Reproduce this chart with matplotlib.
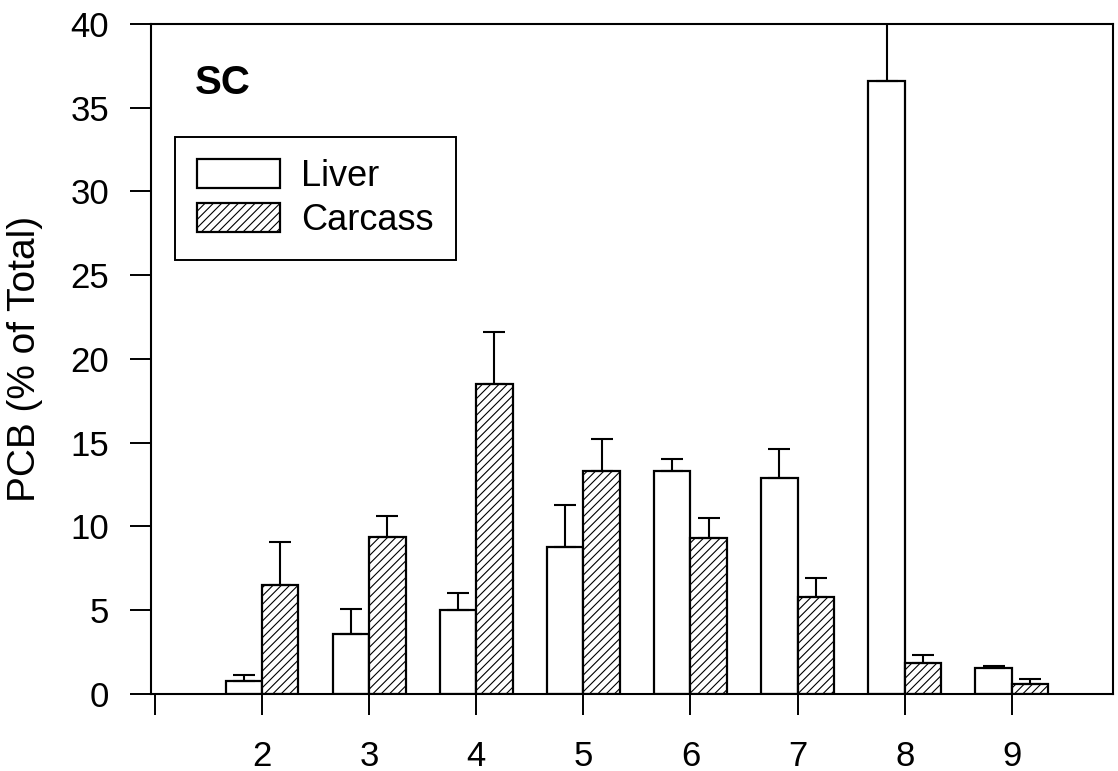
import numpy as np
import matplotlib
matplotlib.use('Agg')
import matplotlib.pyplot as plt

plt.rcParams['font.family'] = ['Liberation Sans', 'DejaVu Sans']
plt.rcParams['hatch.linewidth'] = 0.8

# chlorination level (number of Cl)
groups = [2, 3, 4, 5, 6, 7, 8, 9]
liver = [0.8, 3.6, 5.0, 8.8, 13.3, 12.9, 36.6, 1.55]
liver_err = [0.35, 1.5, 1.0, 2.5, 0.7, 1.7, 5.0, 0.15]
carcass = [6.5, 9.4, 18.5, 13.3, 9.3, 5.8, 1.85, 0.6]
carcass_err = [2.6, 1.2, 3.1, 1.9, 1.2, 1.1, 0.45, 0.3]

x = np.array(groups, dtype=float)
w = 0.34

fig = plt.figure(figsize=(11.18, 7.71), dpi=100)
ax = fig.add_axes([0.135, 0.0999, 0.8605, 0.869])

ax.bar(x - w/2, liver, w, color='white', edgecolor='black', linewidth=1.6,
       label='Liver', zorder=2)
ax.bar(x + w/2, carcass, w, color='white', edgecolor='black', linewidth=1.6,
       hatch='////', label='Carcass', zorder=2)

ax.errorbar(x - w/2, liver, yerr=[np.zeros(len(liver)), liver_err], fmt='none',
            ecolor='black', elinewidth=1.5, capsize=8, capthick=1.5, zorder=3)
ax.errorbar(x + w/2, carcass, yerr=[np.zeros(len(carcass)), carcass_err], fmt='none',
            ecolor='black', elinewidth=1.5, capsize=8, capthick=1.5, zorder=3)

ax.set_xlim(0.963, 9.944)
ax.set_ylim(0, 40)
ax.set_yticks(np.arange(0, 41, 5))
ax.set_xticks([1] + groups)
ax.set_xticklabels([''] + [str(g) for g in groups])

for s in ax.spines.values():
    s.set_linewidth(1.5)

ax.tick_params(axis='y', direction='out', length=15, width=1.4, pad=15, labelsize=25)
ax.tick_params(axis='x', direction='out', length=15, width=1.4, pad=18, labelsize=25)

ax.set_ylabel('PCB (% of Total)', fontsize=28)
ax.yaxis.set_label_coords(-0.112, 0.5)

ax.text(0.046, 0.912, 'SC', transform=ax.transAxes, fontsize=29,
        fontweight='bold', va='center', ha='left')

leg = ax.legend(loc='upper left', bbox_to_anchor=(0.025, 0.831), borderaxespad=0,
                fontsize=26, frameon=True, fancybox=False, edgecolor='black',
                framealpha=1, handlelength=2.3, handleheight=0.85,
                handletextpad=0.6, labelspacing=0.25, borderpad=0.6)
leg.get_frame().set_linewidth(1.4)

fig.savefig('out.png', dpi=100)
